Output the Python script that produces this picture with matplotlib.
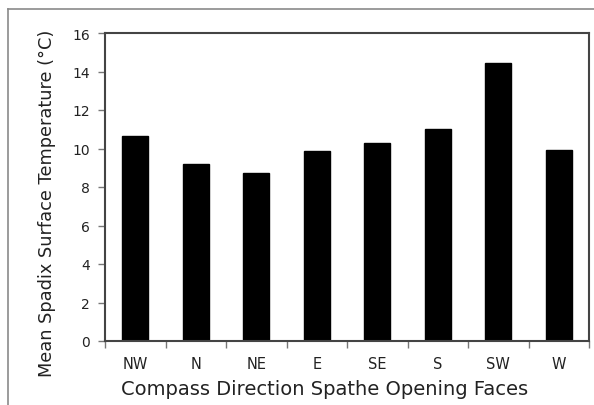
import matplotlib
matplotlib.use("Agg")
import matplotlib.pyplot as plt
from matplotlib.lines import Line2D

directions = ["NW", "N", "NE", "E", "SE", "S", "SW", "W"]
mean_temp = [10.65, 9.2, 8.73, 9.85, 10.27, 11.0, 14.43, 9.94]
y_ticks = [0, 2, 4, 6, 8, 10, 12, 14, 16]

plt.rcParams["font.family"] = ["DejaVu Sans"]

fig = plt.figure(figsize=(5.94, 4.06), dpi=100)
fig.patch.set_facecolor("white")

# outer frame (top and left edges visible)
fig.add_artist(Line2D([8 / 594, 1.0], [1 - 10 / 406, 1 - 10 / 406],
                      transform=fig.transFigure, color="#8a8a8a", lw=1.2))
fig.add_artist(Line2D([8 / 594, 8 / 594], [0.0, 1 - 10 / 406],
                      transform=fig.transFigure, color="#8a8a8a", lw=1.2))

ax = fig.add_axes([105 / 594, 64 / 406, 484 / 594, 308 / 406])

x = range(len(directions))
ax.bar(x, mean_temp, width=0.43, color="black", edgecolor="black")

ax.set_xlim(-0.5, len(directions) - 0.5)
ax.set_ylim(0, 16)
ax.set_yticks(y_ticks)
ax.set_yticklabels([str(t) for t in y_ticks], fontsize=10, color="#222222")
ax.set_xticks(list(x))
ax.set_xticklabels(directions, fontsize=10.5, color="#222222")
ax.tick_params(axis="x", length=0, pad=11)
ax.set_xticks([i + 0.5 for i in range(-1, len(directions))], minor=True)
ax.tick_params(axis="x", which="minor", length=5, direction="out", color="#777777", width=1)
ax.tick_params(axis="y", length=5, direction="out", color="#777777", width=1, pad=6)

for s in ax.spines.values():
    s.set_color("#444444")
    s.set_linewidth(1.5)

ax.set_xlabel("Compass Direction Spathe Opening Faces", fontsize=14, color="#222222")
ax.xaxis.set_label_coords(0.4535, -0.122)
ax.set_ylabel("Mean Spadix Surface Temperature (°C)", fontsize=12.8, color="#222222")
ax.yaxis.set_label_coords(-0.102, 0.45)

fig.savefig("out.png", dpi=100, facecolor="white")
